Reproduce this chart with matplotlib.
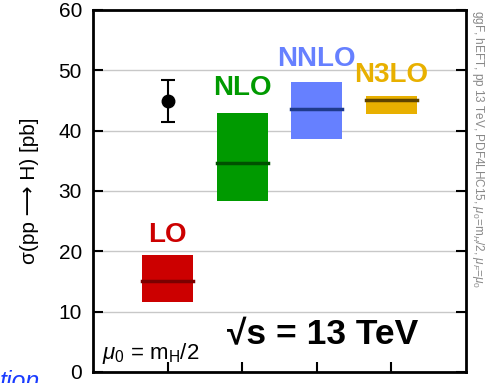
import matplotlib.pyplot as plt
from matplotlib.patches import Rectangle

plt.rcParams['font.family'] = ['Liberation Sans', 'DejaVu Sans']
plt.rcParams['mathtext.fontset'] = 'custom'
plt.rcParams['mathtext.rm'] = 'Liberation Sans'
plt.rcParams['mathtext.it'] = 'Liberation Sans:italic'

# data
orders = ['LO', 'NLO', 'NNLO', 'N3LO']
positions = [1, 2, 3, 4]
central = [15.1, 34.6, 43.6, 45.1]
low = [11.6, 28.3, 38.6, 42.8]
high = [19.4, 43.0, 48.1, 45.7]
fill_colors = ['#cc0000', '#009a00', '#6680ff', '#e8b000']
line_colors = ['#7a0000', '#005000', '#1f3a8c', '#5e4400']
label_y = [22.7, 47.1, 51.9, 49.2]

meas_x = 1
meas_val = 44.9
meas_err_lo = 3.5
meas_err_hi = 3.5

fig = plt.figure(figsize=(4.87, 3.83), dpi=100)
ax = fig.add_axes([0.191, 0.029, 0.766, 0.945])

box_w = 0.68
for x, c, lo, hi, fc, lc, name, ly in zip(positions, central, low, high,
                                           fill_colors, line_colors, orders, label_y):
    ax.add_patch(Rectangle((x - box_w / 2, lo), box_w, hi - lo, facecolor=fc,
                           edgecolor='none', zorder=3))
    ax.plot([x - box_w / 2, x + box_w / 2], [c, c], color=lc, lw=2.5, zorder=4)
    ax.text(x, ly, name, color=fc, fontsize=20, fontweight='bold',
            ha='center', va='center', zorder=5)

ax.errorbar([meas_x], [meas_val], yerr=[[meas_err_lo], [meas_err_hi]], fmt='o',
            color='black', ms=9, capsize=5, elinewidth=1.5, capthick=1.5, zorder=5)

ax.set_xlim(0, 5)
ax.set_ylim(0, 60)
ax.set_xticks([1, 2, 3, 4])
ax.set_xticklabels([])
ax.set_yticks(range(0, 61, 10))
ax.tick_params(axis='y', direction='in', left=True, right=True, length=7, width=1.5,
               labelsize=15, pad=8)
ax.tick_params(axis='x', direction='in', bottom=True, top=False, length=7, width=1.5)
for y in range(10, 60, 10):
    ax.axhline(y, color='#c8c8c8', lw=1, zorder=1)
for s in ax.spines.values():
    s.set_linewidth(2)

ax.set_ylabel('σ(pp ⟶ H) [pb]', fontsize=15, labelpad=14)

ax.text(0.12, 3.1, r'$\mathit{\mu}_0$ = m$_\mathrm{H}$/2', fontsize=16, ha='left', va='center')
ax.text(1.8, 6.1, '√s = 13 TeV', fontsize=25.5, fontweight='bold', ha='left', va='center')

fig.text(0.981, 0.975, r'ggF, hEFT, pp 13 TeV, PDF4LHC15, $\mu_0$=m$_H$/2, $\mu_F$=$\mu_0$',
         rotation=270, fontsize=8.5, color='#888888', ha='center', va='top')

fig.text(0.0, 0.035, 'tion', color='#1a3cff', fontsize=18, style='italic',
         ha='left', va='top')

fig.savefig('out.png', dpi=100)
